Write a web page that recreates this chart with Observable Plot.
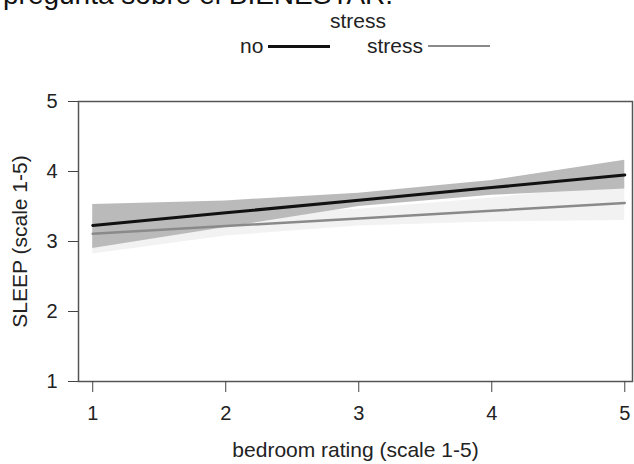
<!DOCTYPE html>
<html>
<head>
<meta charset="utf-8">
<script src="https://cdn.jsdelivr.net/npm/d3@7"></script>
<script src="https://cdn.jsdelivr.net/npm/@observablehq/plot@0.6"></script>
<style>
  html, body { margin: 0; padding: 0; background: #fff; }
  #wrap { position: relative; width: 634px; height: 464px; overflow: hidden; background: #fff;
          font-family: "Liberation Sans", Arial, sans-serif; color: #222; }
  #heading { position: absolute; left: 3px; top: -19px; font-size: 28px; line-height: 28px; color: #111; white-space: nowrap; }
  #legtitle { position: absolute; left: 330px; top: 10px; font-size: 21px; line-height: 22px; }
  .item { position: absolute; top: 34px; font-size: 21px; line-height: 24px; display: flex; align-items: center; }
  .sw { display: inline-block; width: 62px; margin-left: 5px; }
  #chart { position: absolute; left: 0; top: 60px; }
</style>
</head>
<body>
<div id="wrap">
  <div id="heading"></div>
  <div id="legtitle"></div>
  <div id="legend"></div>
  <div id="chart"></div>
</div>
<script>
// ---- data ----
const headingText = "pregunta sobre el BIENESTAR.";
const legendTitle = "stress";
const groups = ["no", "stress"];
const groupColors = ["#111111", "#8a8a8a"];
const groupWidths = [3, 2.5];
const bedroom = [1, 2, 3, 4, 5];
const noFit   = [3.23, 3.41, 3.59, 3.77, 3.95];
const noLo    = [2.90, 3.20, 3.50, 3.66, 3.75];
const noHi    = [3.53, 3.58, 3.69, 3.87, 4.16];
const stressFit = [3.11, 3.22, 3.33, 3.44, 3.55];
const stressLo  = [2.82, 3.08, 3.22, 3.28, 3.30];
const stressHi  = [3.40, 3.38, 3.46, 3.62, 3.82];
const xTicks = [1, 2, 3, 4, 5];
const yTicks = [1, 2, 3, 4, 5];
const xLabel = "bedroom rating (scale 1-5)";
const yLabel = "SLEEP (scale 1-5)";

// ---- build rows ----
const noRows = bedroom.map((x, i) => ({x, fit: noFit[i], lo: noLo[i], hi: noHi[i], g: groups[0]}));
const stRows = bedroom.map((x, i) => ({x, fit: stressFit[i], lo: stressLo[i], hi: stressHi[i], g: groups[1]}));

document.getElementById("heading").textContent = headingText;
document.getElementById("legtitle").textContent = legendTitle;
const leg = document.getElementById("legend");
const itemLefts = [240, 367];
groups.forEach((g, i) => {
  const d = document.createElement("div");
  d.className = "item";
  d.style.left = itemLefts[i] + "px";
  const t = document.createElement("span");
  t.textContent = g;
  const s = document.createElement("span");
  s.className = "sw";
  s.style.height = groupWidths[i] + "px";
  s.style.background = groupColors[i];
  d.appendChild(t); d.appendChild(s);
  leg.appendChild(d);
});

const chart = Plot.plot({
  width: 634,
  height: 404,
  marginTop: 41,
  marginBottom: 83,
  marginLeft: 78,
  marginRight: 2,
  x: {domain: [0.893, 5.058]},
  y: {domain: [1, 5]},
  style: {fontFamily: "'Liberation Sans', Arial, sans-serif", fontSize: "20px", background: "white", color: "#222", overflow: "visible"},
  marks: [
    Plot.areaY(stRows, {x: "x", y1: "lo", y2: "hi", fill: "#f2f2f2"}),
    Plot.areaY(noRows, {x: "x", y1: "lo", y2: "hi", fill: "#bababa"}),
    Plot.line(stRows, {x: "x", y: "fit", stroke: groupColors[1], strokeWidth: groupWidths[1]}),
    Plot.line(noRows, {x: "x", y: "fit", stroke: groupColors[0], strokeWidth: groupWidths[0]}),
    Plot.frame({stroke: "#555", strokeWidth: 1.5}),
    Plot.axisX({ticks: xTicks, tickSize: 11, tickPadding: 13, tickFormat: d3.format("d"),
                label: xLabel, labelArrow: "none", labelAnchor: "center", labelOffset: 75, stroke: "#444"}),
    Plot.axisY({ticks: yTicks, tickSize: 10, tickPadding: 11, tickFormat: d3.format("d"),
                label: yLabel, labelArrow: "none", labelAnchor: "center", labelOffset: 66, stroke: "#444"})
  ]
});
d3.select(chart).selectAll('g[aria-label="x-axis label"] text, g[aria-label="y-axis label"] text')
  .attr("font-size", 21)
  .each(function() { this.textContent = this.textContent.replace(/\s*[↑↓→←]\s*/g, "").trim(); });
document.getElementById("chart").appendChild(chart);
</script>
</body>
</html>
